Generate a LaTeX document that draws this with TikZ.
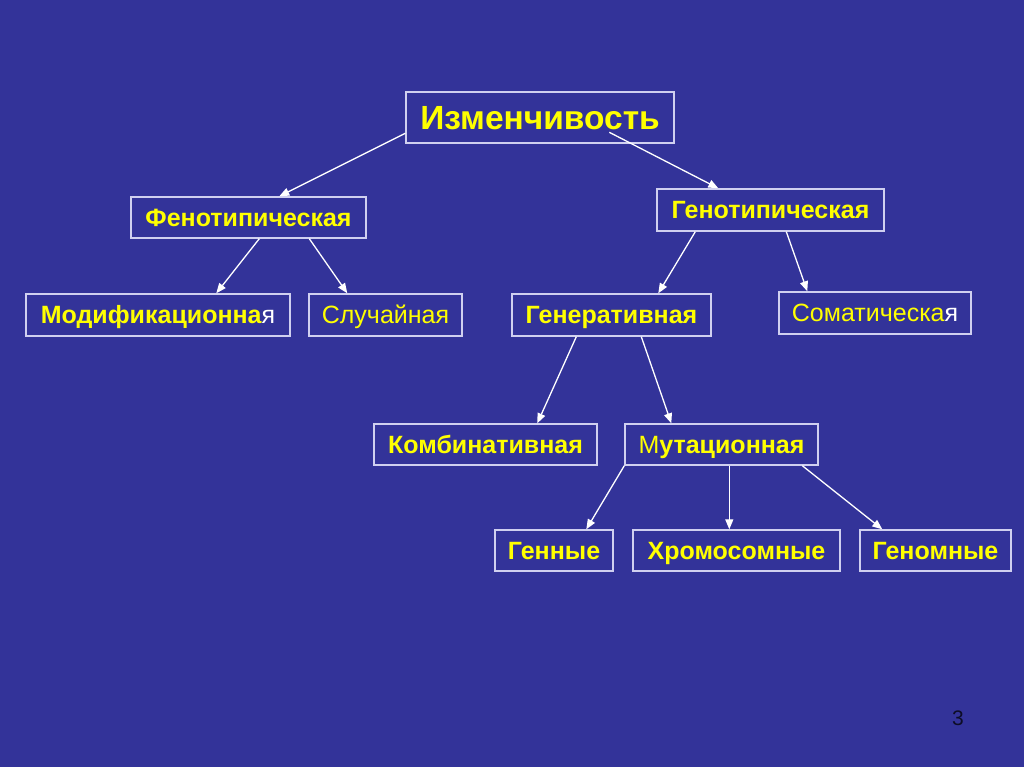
\documentclass[tikz,border=0pt]{standalone}
\usepackage{fontspec}
\setmainfont{Liberation Sans}
\usetikzlibrary{arrows.meta,calc}
\definecolor{bg}{HTML}{333399}
\definecolor{yel}{HTML}{FFFF00}
\definecolor{boxline}{HTML}{D0D0F0}
\tikzset{
  box/.style={draw=boxline,line width=1.4pt,inner sep=0pt,text=yel,anchor=center},
  arr/.style={draw=white,line width=1.3pt,-{Triangle[length=10pt,width=8pt]}},
}
\newcommand{\capbox}[1]{\raisebox{0pt}[0.716em][0pt]{#1}}
\newcommand{\bigtxt}[1]{{\fontsize{33.5}{36}\selectfont\bfseries\capbox{#1}}}
\newcommand{\btxt}[1]{{\fontsize{25}{28}\selectfont\bfseries\capbox{#1}}}
\newcommand{\rtxt}[1]{{\fontsize{25}{28}\selectfont\capbox{#1}}}
\begin{document}
\begin{tikzpicture}[x=1pt,y=-1pt]
\fill[bg] (0,0) rectangle (1024,767);
\useasboundingbox (0,0) rectangle (1024,767);
\node[box,minimum width=268pt,minimum height=51pt] (izm) at (540,117.5) {\bigtxt{Изменчивость}};
\node[box,minimum width=235pt,minimum height=41pt] (fen) at (248.5,217.5) {\btxt{Фенотипическая}};
\node[box,minimum width=227pt,minimum height=42pt] (gen) at (770.5,210) {\btxt{Генотипическая}};
\node[box,minimum width=264pt,minimum height=42pt] (mod) at (158,315) {\btxt{Модификационна}\rtxt{\textcolor{white}{я}}};
\node[box,minimum width=153pt,minimum height=42pt] (slu) at (385.5,315) {\rtxt{Случайная}};
\node[box,minimum width=199pt,minimum height=42pt] (gnr) at (611.5,315) {\btxt{Генеративная}};
\node[box,minimum width=192pt,minimum height=42pt] (som) at (875,313) {\rtxt{Соматическа\textcolor{white}{я}}};
\node[box,minimum width=223pt,minimum height=41pt] (kom) at (485.5,444.5) {\btxt{Комбинативная}};
\node[box,minimum width=193pt,minimum height=41pt] (mut) at (721.5,444.5) {\rtxt{М}\btxt{утационная}};
\node[box,minimum width=118pt,minimum height=41pt] (gny) at (554,550.5) {\btxt{Генные}};
\node[box,minimum width=207pt,minimum height=41pt] (hro) at (736.5,550.5) {\btxt{Хромосомные}};
\node[box,minimum width=151pt,minimum height=41pt] (gnm) at (935.5,550.5) {\btxt{Геномные}};
\node[text=black!75!bg,font=\fontsize{21}{24}\selectfont] (num) at (958,718) {3};
\draw[arr] ($(izm.north west)+(0,42)$) -- ($(fen.north west)+(149,0)$);
\draw[arr] ($(izm.north west)+(204,41)$) -- ($(gen.north west)+(62,0)$);
\draw[arr] ($(fen.south west)+(129,0)$) -- ($(mod.north west)+(191,0)$);
\draw[arr] ($(fen.south west)+(179,0)$) -- ($(slu.north west)+(39,0)$);
\draw[arr] ($(gen.south west)+(39,0)$) -- ($(gnr.north west)+(147,0)$);
\draw[arr] ($(gen.south west)+(130,0)$) -- ($(som.north west)+(29,0)$);
\draw[arr] ($(gnr.south west)+(65,0)$) -- ($(kom.north west)+(164,0)$);
\draw[arr] ($(gnr.south west)+(130,0)$) -- ($(mut.north west)+(47,0)$);
\draw[arr] (mut.south west) -- ($(gny.north west)+(92,0)$);
\draw[arr] ($(mut.south west)+(105,0)$) -- ($(hro.north west)+(97,0)$);
\draw[arr] ($(mut.south west)+(178,0)$) -- ($(gnm.north west)+(23,0)$);
\end{tikzpicture}
\end{document}
